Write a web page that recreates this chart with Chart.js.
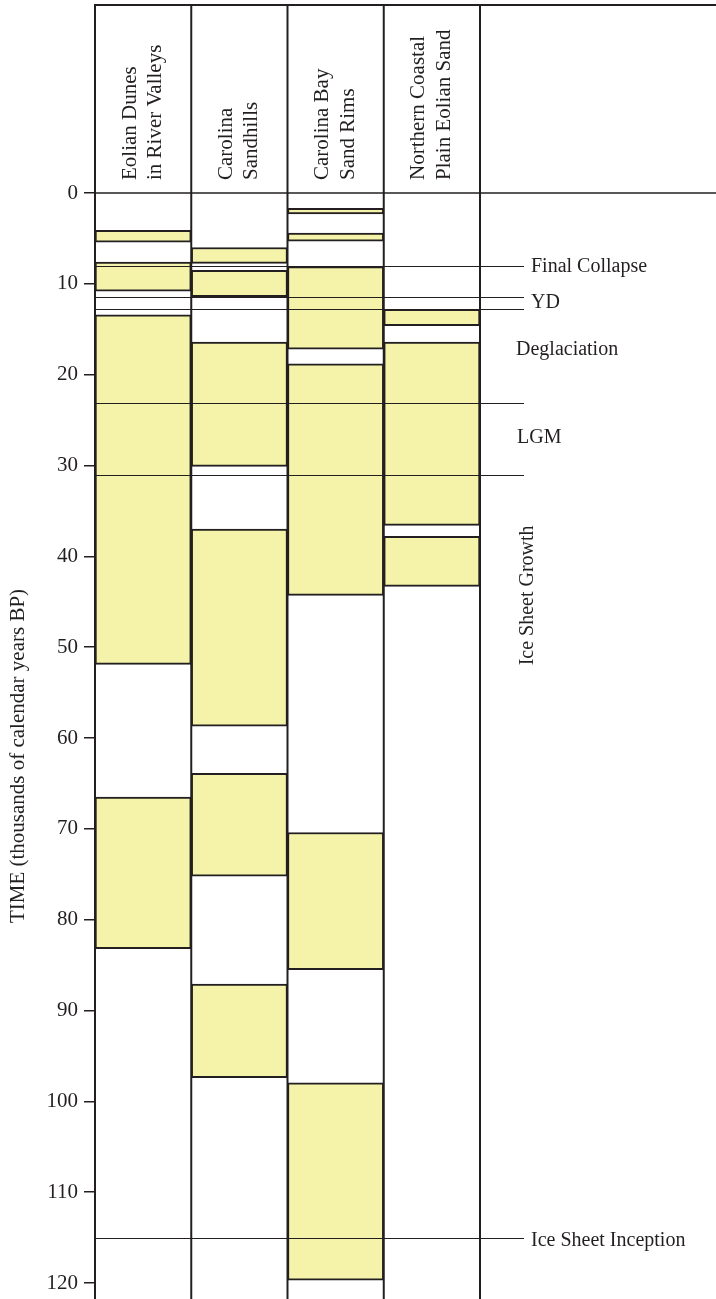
<!DOCTYPE html>
<html>
<head>
<meta charset="utf-8">
<script src="https://cdn.jsdelivr.net/npm/chart.js@4.4.1/dist/chart.umd.min.js"></script>
<style>
  html, body { margin: 0; padding: 0; background: #fff; }
  #wrap { width: 716px; height: 1299px; position: relative; }
</style>
</head>
<body>
<div id="wrap"><canvas id="c" width="716" height="1299"></canvas></div>
<script>
// ---- data (thousands of calendar years BP) ----
const categories = [
  ['Eolian Dunes', 'in River Valleys'],
  ['Carolina', 'Sandhills'],
  ['Carolina Bay', 'Sand Rims'],
  ['Northern Coastal', 'Plain Eolian Sand']
];
const eolianDunes       = [[4.1, 5.4], [7.6, 10.8], [13.4, 51.9], [66.5, 83.2]];
const carolinaSandhills = [[6.0, 7.75], [8.5, 11.4], [16.4, 30.1], [37.0, 58.7], [63.9, 75.2], [87.1, 97.4]];
const carolinaBayRims   = [[1.7, 2.3], [4.4, 5.3], [8.1, 17.2], [18.8, 44.3], [70.4, 85.5], [97.95, 119.7]];
const coastalPlainSand  = [[12.8, 14.6], [16.4, 36.6], [37.8, 43.3]];
const yTicks = [0, 10, 20, 30, 40, 50, 60, 70, 80, 90, 100, 110, 120];
const eventLines = [8.0, 11.4, 12.75, 23.1, 31.05, 115.0];
const eventLabels = [
  { text: 'Final Collapse',      at: 8.15,  x: 531, rotate: false },
  { text: 'YD',                  at: 12.1,  x: 531, rotate: false },
  { text: 'Deglaciation',        at: 17.3,  x: 516, rotate: false },
  { text: 'LGM',                 at: 26.9,  x: 517, rotate: false },
  { text: 'Ice Sheet Growth',    at: 44.3,  x: 528, rotate: true  },
  { text: 'Ice Sheet Inception', at: 115.3, x: 531, rotate: false }
];
const yTitle = 'TIME (thousands of calendar years BP)';

// ---- build datasets from the column arrays ----
const columns = [eolianDunes, carolinaSandhills, carolinaBayRims, coastalPlainSand];
const nSets = Math.max(...columns.map(c => c.length));
const datasets = [];
for (let i = 0; i < nSets; i++) {
  datasets.push({
    data: columns.map(c => c[i] ? c[i] : null),
    backgroundColor: '#f5f3a9',
    borderColor: '#231f20',
    borderWidth: 2,
    borderSkipped: false,
    grouped: false,
    barPercentage: 1,
    categoryPercentage: 1
  });
}

const FONT = "'Liberation Serif', 'Times New Roman', serif";
const INK = '#231f20';

const framePlugin = {
  id: 'frame',
  afterDatasetsDraw(chart) {
    const { ctx, chartArea: a, scales: { x, y } } = chart;
    ctx.save();
    ctx.strokeStyle = INK;
    // event lines
    ctx.lineWidth = 1;
    eventLines.forEach(v => {
      const py = Math.round(y.getPixelForValue(v)) + 0.5;
      ctx.beginPath(); ctx.moveTo(a.left, py); ctx.lineTo(524, py); ctx.stroke();
    });
    // column dividers
    const colW = (a.right - a.left) / categories.length;
    ctx.lineWidth = 2;
    for (let i = 0; i <= categories.length; i++) {
      const px = a.left + i * colW;
      ctx.beginPath(); ctx.moveTo(px, 4); ctx.lineTo(px, 1299); ctx.stroke();
    }
    // top and header lines
    ctx.beginPath(); ctx.moveTo(a.left - 1, 5); ctx.lineTo(716, 5); ctx.stroke();
    ctx.lineWidth = 1.5;
    ctx.beginPath(); ctx.moveTo(a.left, a.top); ctx.lineTo(716, a.top); ctx.stroke();
    ctx.restore();
  },
  afterDraw(chart) {
    const { ctx, chartArea: a, scales: { x, y } } = chart;
    ctx.save();
    ctx.fillStyle = INK;
    ctx.font = '21px ' + FONT;
    // column headers
    categories.forEach((lines, i) => {
      const cx = x.getPixelForValue(i);
      lines.forEach((t, j) => {
        ctx.save();
        ctx.translate(cx - 13 + j * 25.5, 180);
        ctx.rotate(-Math.PI / 2);
        ctx.textAlign = 'left';
        ctx.textBaseline = 'middle';
        ctx.fillText(t, 0, 0);
        ctx.restore();
      });
    });
    // event labels
    ctx.font = '20px ' + FONT;
    eventLabels.forEach(l => {
      const py = y.getPixelForValue(l.at);
      ctx.save();
      ctx.textBaseline = 'middle';
      if (l.rotate) {
        ctx.translate(l.x, py);
        ctx.rotate(-Math.PI / 2);
        ctx.textAlign = 'center';
        ctx.fillText(l.text, 0, 0);
      } else {
        ctx.textAlign = 'left';
        ctx.fillText(l.text, l.x, py);
      }
      ctx.restore();
    });
    // y-axis title
    ctx.font = '21px ' + FONT;
    ctx.save();
    ctx.translate(18, 756);
    ctx.rotate(-Math.PI / 2);
    ctx.textAlign = 'center';
    ctx.textBaseline = 'middle';
    ctx.fillText(yTitle, 0, 0);
    ctx.restore();
    ctx.restore();
  }
};

new Chart(document.getElementById('c'), {
  type: 'bar',
  data: { labels: categories.map(c => c.join(' ')), datasets },
  options: {
    responsive: false,
    animation: false,
    devicePixelRatio: 1,
    layout: { padding: { top: 193, right: 236, bottom: 0, left: 0 } },
    plugins: { legend: { display: false }, tooltip: { enabled: false } },
    scales: {
      x: { type: 'category', display: false, offset: true, grid: { display: false } },
      y: {
        type: 'linear',
        reverse: true,
        min: 0,
        max: 1106 / (1090 / 120),
        afterBuildTicks: s => { s.ticks = yTicks.map(v => ({ value: v })); },
        afterFit: s => { s.width = 95; s.paddingTop = 0; s.paddingBottom = 0; },
        ticks: { color: INK, font: { family: FONT, size: 21 }, padding: 6 },
        grid: { drawOnChartArea: false, color: INK, lineWidth: 1.5, tickLength: 11, drawTicks: true },
        border: { display: true, color: INK, width: 2 }
      }
    }
  },
  plugins: [framePlugin]
});
</script>
</body>
</html>
